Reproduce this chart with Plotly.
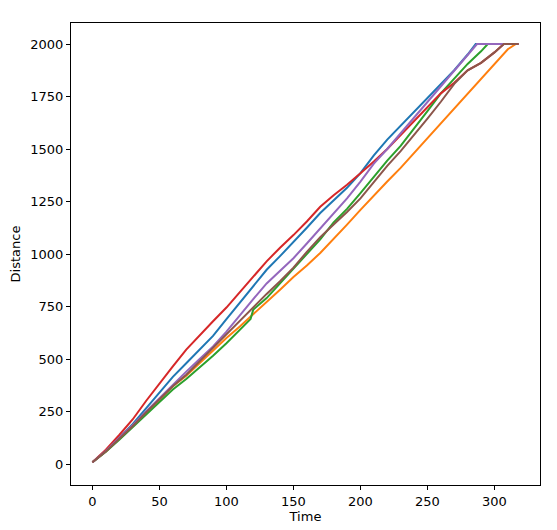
import plotly.graph_objects as go

# time samples (every 10 units) and distance of each run
t_blue = [0, 10, 20, 30, 40, 50, 60, 70, 80, 90, 100, 110, 120, 130, 140, 150, 160, 170, 180, 190,
          200, 210, 220, 230, 240, 250, 260, 270, 280, 286, 300, 318]
d_blue = [8, 62, 125, 190, 265, 340, 415, 480, 545, 610, 690, 770, 850, 925, 990, 1055, 1125, 1195, 1255, 1315,
          1385, 1470, 1545, 1610, 1675, 1740, 1805, 1875, 1950, 2000, 2000, 2000]

t_orange = [0, 10, 20, 30, 40, 50, 60, 70, 80, 90, 100, 110, 120, 130, 140, 150, 160, 170, 180, 190,
            200, 210, 220, 230, 240, 250, 260, 270, 280, 290, 300, 310, 316, 318]
d_orange = [8, 60, 120, 182, 245, 310, 370, 420, 480, 540, 600, 655, 712, 770, 830, 890, 945, 1005, 1070, 1140,
            1210, 1280, 1345, 1410, 1480, 1550, 1620, 1690, 1765, 1835, 1905, 1975, 2000, 2000]

t_green = [0, 10, 20, 30, 40, 50, 60, 70, 80, 90, 100, 110, 118, 120, 130, 140, 150, 160, 170, 180, 190,
           200, 210, 220, 230, 240, 250, 260, 270, 280, 290, 295, 318]
d_green = [8, 58, 115, 175, 235, 295, 355, 405, 460, 515, 575, 640, 690, 735, 790, 860, 930, 1000, 1070, 1150, 1215,
           1290, 1370, 1445, 1515, 1595, 1680, 1765, 1835, 1905, 1965, 2000, 2000]

t_red = [0, 10, 20, 30, 40, 50, 60, 70, 80, 90, 100, 110, 120, 130, 140, 150, 160, 170, 180, 190,
         200, 210, 220, 230, 240, 250, 260, 270, 280, 290, 300, 307, 318]
d_red = [8, 68, 138, 212, 300, 385, 465, 545, 615, 680, 745, 820, 895, 965, 1030, 1090, 1155, 1225, 1280, 1330,
         1385, 1440, 1500, 1565, 1630, 1700, 1765, 1815, 1875, 1910, 1960, 2000, 2000]

t_purple = [0, 10, 20, 30, 40, 50, 60, 70, 80, 90, 100, 110, 120, 130, 140, 150, 160, 170, 180, 190,
            200, 210, 220, 230, 240, 250, 260, 270, 280, 287, 300, 318]
d_purple = [8, 62, 125, 185, 250, 315, 380, 440, 500, 560, 630, 710, 785, 860, 920, 980, 1050, 1120, 1195, 1265,
            1345, 1430, 1500, 1575, 1650, 1725, 1800, 1875, 1950, 2000, 2000, 2000]

t_brown = [0, 10, 20, 30, 40, 50, 60, 70, 80, 90, 100, 110, 120, 130, 140, 150, 160, 170, 180, 190,
           200, 210, 220, 230, 240, 250, 260, 270, 280, 290, 300, 307, 318]
d_brown = [8, 60, 120, 180, 245, 310, 370, 425, 490, 550, 615, 680, 745, 810, 870, 935, 1010, 1080, 1140, 1200,
           1265, 1345, 1420, 1490, 1565, 1645, 1725, 1810, 1875, 1910, 1960, 2000, 2000]

runs = [
    (t_blue, d_blue, '#1f77b4'),
    (t_orange, d_orange, '#ff7f0e'),
    (t_green, d_green, '#2ca02c'),
    (t_red, d_red, '#d62728'),
    (t_purple, d_purple, '#9467bd'),
    (t_brown, d_brown, '#8c564b'),
]

fig = go.Figure()
for t, d, c in runs:
    fig.add_trace(go.Scatter(x=t, y=d, mode='lines', line=dict(color=c, width=2), showlegend=False))

axis_style = dict(showgrid=False, zeroline=False, showline=True, mirror=True, linecolor='black', linewidth=1,
                  ticks='outside', ticklen=4, tickcolor='black', tickfont=dict(size=13, color='black'),
                  title_font=dict(size=13, color='black'), automargin=False)

# page body adds an 8px offset, so the figure is a bit smaller than the window
fig.update_layout(
    width=549, height=522,
    margin=dict(l=63, r=17, t=15, b=45),
    plot_bgcolor='white', paper_bgcolor='white',
    font=dict(family='DejaVu Sans'),
    xaxis=dict(range=[-16, 334], tickvals=[0, 50, 100, 150, 200, 250, 300], title_text='Time',
               title_standoff=2, **axis_style),
    yaxis=dict(range=[-100, 2100], tickvals=[0, 250, 500, 750, 1000, 1250, 1500, 1750, 2000],
               title_text='Distance', title_standoff=6, **axis_style),
)

fig.write_html("out.html")
